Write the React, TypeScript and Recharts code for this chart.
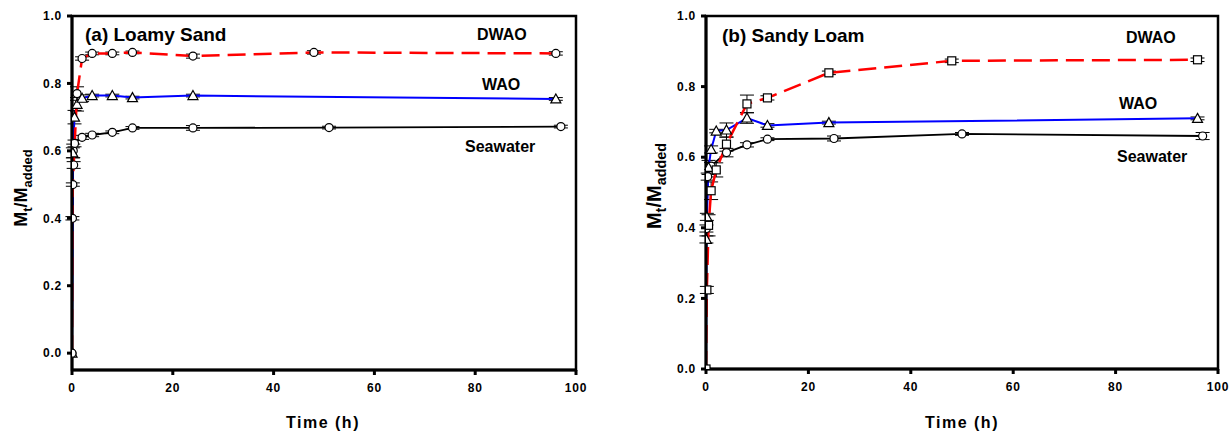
import React from "react";
import {
  LineChart,
  Line,
  XAxis,
  YAxis,
  ErrorBar,
  ReferenceArea,
} from "recharts";

// (a) Loamy Sand
const aDwaoT = [0, 0.083, 0.167, 0.33, 1, 2, 4, 8, 12, 24, 48, 96];
const aDwaoV = [0, 0.4, 0.5, 0.558, 0.77, 0.874, 0.889, 0.889, 0.892, 0.881, 0.892, 0.889];
const aDwaoE = [0, 0.005, 0.005, 0.01, 0.02, 0.005, 0.004, 0.004, 0.004, 0.006, 0.005, 0.005];
const aWaoT = [0, 0.17, 0.5, 1, 2, 4, 8, 12, 24, 96];
const aWaoV = [0, 0.594, 0.7, 0.738, 0.756, 0.764, 0.764, 0.758, 0.764, 0.754];
const aWaoE = [0, 0.015, 0.02, 0.02, 0.01, 0.004, 0.004, 0.004, 0.004, 0.004];
const aSeaT = [0, 0.25, 0.5, 2, 4, 8, 12, 24, 51, 97];
const aSeaV = [0, 0.6, 0.622, 0.64, 0.647, 0.655, 0.668, 0.668, 0.669, 0.672];
const aSeaE = [0, 0.02, 0.01, 0.006, 0.005, 0.004, 0.004, 0.007, 0.004, 0.004];

// (b) Sandy Loam
const bDwaoT = [0, 0.17, 0.5, 1, 2, 4, 8, 12, 24, 48, 96];
const bDwaoV = [0, 0.224, 0.407, 0.505, 0.564, 0.637, 0.751, 0.768, 0.839, 0.873, 0.876];
const bDwaoE = [0, 0.01, 0.03, 0.025, 0.02, 0.02, 0.025, 0.006, 0.005, 0.005, 0.005];
const bWaoT = [0, 0.083, 0.17, 0.5, 1, 2, 4, 8, 12, 24, 96];
const bWaoV = [0, 0.367, 0.431, 0.571, 0.622, 0.674, 0.677, 0.711, 0.69, 0.698, 0.71];
const bWaoE = [0, 0.01, 0.01, 0.02, 0.01, 0.005, 0.02, 0.015, 0.005, 0.004, 0.004];
const bSeaT = [0, 0.083, 0.33, 1, 4, 8, 12, 25, 50, 97];
const bSeaV = [0, 0.398, 0.545, 0.575, 0.613, 0.635, 0.651, 0.653, 0.666, 0.66];
const bSeaE = [0, 0.01, 0.01, 0.01, 0.012, 0.006, 0.004, 0.007, 0.004, 0.01];

const xTicks = [0, 20, 40, 60, 80, 100];
const yTicks = [0, 0.2, 0.4, 0.6, 0.8, 1.0];

const font = "Arial, 'Liberation Sans', sans-serif";

const toRows = (t: number[], v: number[], e: number[]) =>
  t.map((x, i) => ({ t: x, v: v[i], e: e[i] }));

const circleDot = (p: any) =>
  p.cx == null ? null : (
    <circle key={p.key} cx={p.cx} cy={p.cy} r={4} fill="#fff" stroke="#000" strokeWidth={1.2} />
  );
const triDot = (p: any) =>
  p.cx == null ? null : (
    <path
      key={p.key}
      d={`M${p.cx},${p.cy - 5} L${p.cx + 5},${p.cy + 4} L${p.cx - 5},${p.cy + 4} Z`}
      fill="#fff"
      stroke="#000"
      strokeWidth={1.2}
    />
  );
const squareDot = (p: any) =>
  p.cx == null ? null : (
    <rect key={p.key} x={p.cx - 4} y={p.cy - 4} width={8} height={8} fill="#fff" stroke="#000" strokeWidth={1.2} />
  );

const tickStyle = { fontSize: 12, fontWeight: "bold", fill: "#000", fontFamily: font, letterSpacing: 0.8 };

interface PanelProps {
  left: number;
  width: number;
  yWidth: number;
  right: number;
  bottom: number;
  yMin: number;
  dwao: { t: number; v: number; e: number }[];
  wao: { t: number; v: number; e: number }[];
  sea: { t: number; v: number; e: number }[];
  dwaoDot: (p: any) => any;
}

const Panel = ({ left, width, yWidth, right, bottom, yMin, dwao, wao, sea, dwaoDot }: PanelProps) => (
  <div style={{ position: "absolute", left, top: 0 }}>
    <LineChart width={width} height={431} margin={{ top: 16, right, bottom, left: 0 }}>
      <XAxis
        type="number"
        dataKey="t"
        domain={[0, 100]}
        ticks={xTicks}
        tickSize={5}
        tickMargin={8}
        height={30}
        axisLine={{ stroke: "#000", strokeWidth: 3 }}
        tickLine={{ stroke: "#000", strokeWidth: 3 }}
        tick={tickStyle}
        allowDataOverflow
      />
      <YAxis
        type="number"
        domain={[yMin, 1]}
        ticks={yTicks}
        tickFormatter={(v: number) => v.toFixed(1)}
        tickSize={5}
        tickMargin={5}
        width={yWidth}
        axisLine={{ stroke: "#000", strokeWidth: 3 }}
        tickLine={{ stroke: "#000", strokeWidth: 3 }}
        tick={tickStyle}
        allowDataOverflow
      />
      <ReferenceArea x1={0} x2={100} y1={yMin} y2={1} fill="none" stroke="#000" strokeWidth={2.5} />
      <Line data={sea} dataKey="v" type="linear" stroke="#000" strokeWidth={1.8} dot={circleDot} activeDot={false} isAnimationActive={false}>
        <ErrorBar dataKey="e" direction="y" width={7} stroke="#000" strokeWidth={1} />
      </Line>
      <Line data={wao} dataKey="v" type="linear" stroke="#0000ff" strokeWidth={2} dot={triDot} activeDot={false} isAnimationActive={false}>
        <ErrorBar dataKey="e" direction="y" width={7} stroke="#000" strokeWidth={1} />
      </Line>
      <Line data={dwao} dataKey="v" type="linear" stroke="#ff0000" strokeWidth={2.5} strokeDasharray="18 8" dot={dwaoDot} activeDot={false} isAnimationActive={false}>
        <ErrorBar dataKey="e" direction="y" width={7} stroke="#000" strokeWidth={1} />
      </Line>
    </LineChart>
  </div>
);

const YLabel = ({ x, y, size }: { x: number; y: number; size: number }) => (
  <text
    x={x}
    y={y}
    transform={`rotate(-90 ${x} ${y})`}
    textAnchor="middle"
    fontSize={size}
    fontWeight="bold"
    fontFamily={font}
  >
    M
    <tspan fontSize={size * 0.72} dy={size * 0.25}>t</tspan>
    <tspan dy={-size * 0.25}>/M</tspan>
    <tspan fontSize={size * 0.72} dy={size * 0.25}>added</tspan>
  </text>
);

const label = { fontWeight: "bold", fontFamily: font, fill: "#000" } as const;

export default function App() {
  return (
    <div style={{ position: "absolute", left: 0, top: 0, width: 1230, height: 431, background: "#fff" }}>
      <Panel
        left={0}
        width={600}
        yWidth={72}
        right={24}
        bottom={31}
        yMin={-0.05}
        dwao={toRows(aDwaoT, aDwaoV, aDwaoE)}
        wao={toRows(aWaoT, aWaoV, aWaoE)}
        sea={toRows(aSeaT, aSeaV, aSeaE)}
        dwaoDot={circleDot}
      />
      <Panel
        left={640}
        width={590}
        yWidth={66}
        right={12}
        bottom={32}
        yMin={0}
        dwao={toRows(bDwaoT, bDwaoV, bDwaoE)}
        wao={toRows(bWaoT, bWaoV, bWaoE)}
        sea={toRows(bSeaT, bSeaV, bSeaE)}
        dwaoDot={squareDot}
      />
      <svg width={1230} height={431} style={{ position: "absolute", left: 0, top: 0, pointerEvents: "none" }}>
        <text x={85} y={41} fontSize={19} {...label}>(a) Loamy Sand</text>
        <text x={477} y={40} fontSize={16} {...label}>DWAO</text>
        <text x={482} y={90} fontSize={16} {...label}>WAO</text>
        <text x={465} y={152} fontSize={16} {...label}>Seawater</text>
        <text x={323} y={428} fontSize={16} letterSpacing={1.5} textAnchor="middle" {...label}>Time (h)</text>
        <YLabel x={27} y={188} size={18} />

        <text x={722} y={42} fontSize={19} {...label}>(b) Sandy Loam</text>
        <text x={1126} y={43} fontSize={16} {...label}>DWAO</text>
        <text x={1119} y={109} fontSize={16} {...label}>WAO</text>
        <text x={1117} y={162} fontSize={16} {...label}>Seawater</text>
        <text x={962} y={428} fontSize={16} letterSpacing={1.5} textAnchor="middle" {...label}>Time (h)</text>
        <YLabel x={661} y={186} size={20} />
      </svg>
    </div>
  );
}
